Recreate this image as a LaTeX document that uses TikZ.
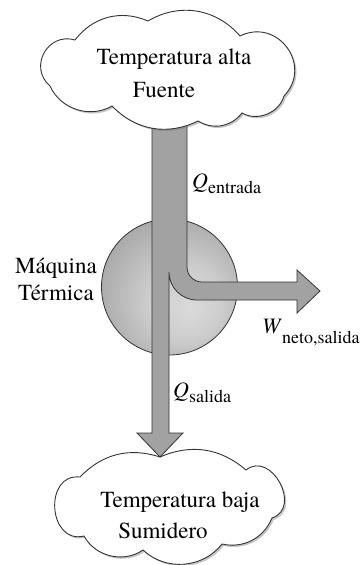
\documentclass[tikz,border=0pt]{standalone}
\usepackage{fontspec}
\setmainfont{texgyretermes}[Extension=.otf, UprightFont=*-regular, ItalicFont=*-italic, BoldFont=*-bold]
\usetikzlibrary{shadows}
\definecolor{flowgray}{HTML}{A2A2A2}
\definecolor{edgegray}{HTML}{333333}
\definecolor{cloudedge}{HTML}{C4C4C4}
\definecolor{spherelight}{HTML}{DADADA}
\definecolor{spheredark}{HTML}{7E7E7E}
\pgfdeclareradialshading{cloudshade}{\pgfpoint{-8bp}{6bp}}{color(0bp)=(white); color(26bp)=(white); color(50bp)=(cloudedge)}
\pgfdeclareradialshading{sphereshade}{\pgfpoint{8bp}{-8bp}}{color(0bp)=(spherelight); color(14bp)=(spherelight!85!spheredark); color(50bp)=(spheredark)}
\newcommand{\flowsub}[2]{\raisebox{-#1}{\fontsize{18}{20}\selectfont #2}}
\tikzset{
  cloudbody/.style={draw=edgegray, line width=0.9pt, shading=cloudshade, drop shadow={shadow xshift=1.8pt, shadow yshift=-1.8pt, opacity=0.45, fill=gray}},
  flowpath/.style={draw=edgegray, fill=flowgray, line width=0.8pt, line join=miter},
  enginebody/.style={circle, minimum size=136pt, inner sep=0pt, draw=edgegray, line width=0.8pt, shading=sphereshade},
  bigtext/.style={font=\fontsize{23}{27}\selectfont, inner sep=0pt, anchor=base},
  flowlabel/.style={font=\fontsize{22}{26}\selectfont, inner sep=0pt, anchor=base west}
}

\begin{document}
\begin{tikzpicture}[x=1pt, y=-1pt]
  \useasboundingbox (0,0) rectangle (362,565);
  % engine
  \node[enginebody] (engine) at (169.5,287) {};
  % sink cloud
  \path[cloudbody] (160,457) to[bend left=32] (246,470) to[bend left=100, looseness=1.5] (272,518)
    to[bend left=40] (222,544) to[bend left=48] (143,550) to[bend left=48] (84,536)
    to[bend left=100, looseness=1.6] (80,477) to[bend left=32] (160,457) -- cycle;
  % heat flow
  \path[flowpath] (152,118) -- (152,433) -- (137,433) -- (160,457) -- (183,433) -- (169,433) -- (169,272)
    .. controls (169,287.5) and (181.5,300) .. (197,300) -- (297,300) -- (297,313) -- (320,291)
    -- (297,270) -- (297,282) -- (202,282) .. controls (193.7,282) and (187,275.3) .. (187,267)
    -- (187,118) -- cycle;
  % source cloud
  \path[cloudbody] (50,86) to[bend left=78, looseness=1.4] (75,40) to[bend left=38] (148,21)
    to[bend left=40] (240,36) to[bend left=80, looseness=1.45] (284,96) to[bend left=52] (242,113)
    to[bend left=42] (198,121) to[bend left=36] (112,106) to[bend left=48] (50,86) -- cycle;

  \node[bigtext] (hot1) at (174,64) {Temperatura alta};
  \node[bigtext] (hot2) at (164,97) {Fuente};
  \node[bigtext] (cold1) at (180,507) {Temperatura baja};
  \node[bigtext] (cold2) at (163,538) {Sumidero};
  \node[bigtext] (maq1) at (56,273) {Máquina};
  \node[bigtext] (maq2) at (56,300) {Térmica};

  \node[flowlabel] (qin) at (192,188) {\textit{Q}\flowsub{5pt}{entrada}};
  \node[flowlabel] (qout) at (173,397) {\textit{Q}\flowsub{5pt}{salida}};
  \node[flowlabel] (wnet) at (262,333) {\textit{W}\flowsub{10pt}{neto,salida}};
\end{tikzpicture}
\end{document}
